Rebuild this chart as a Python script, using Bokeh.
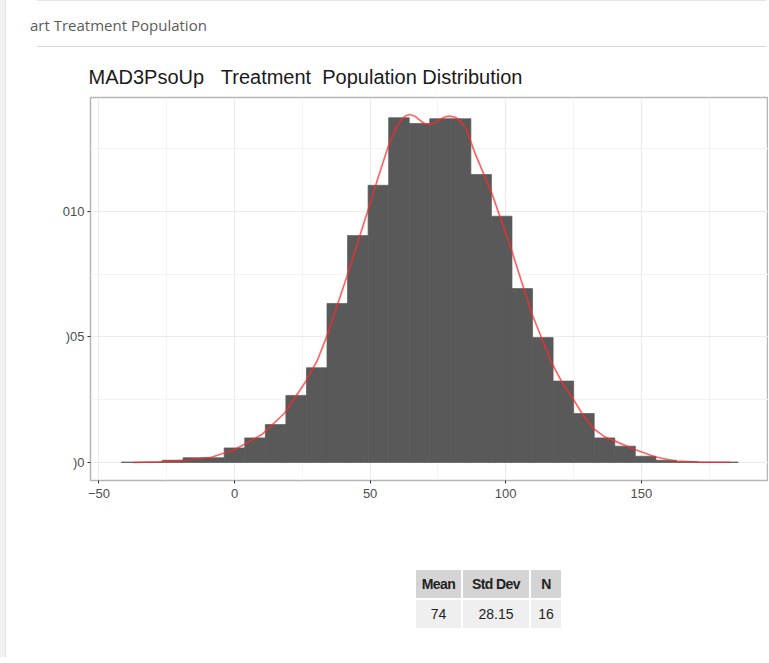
from bokeh.plotting import figure
from bokeh.models import Div, FixedTicker, Range1d
from bokeh.layouts import column
from bokeh.embed import file_html
from bokeh.resources import INLINE

# ---- data ----
bin_edges = [-41.7, -34.12, -26.54, -18.96, -11.38, -3.8, 3.78, 11.36, 18.94, 26.52,
             34.1, 41.68, 49.26, 56.84, 64.42, 72.0, 79.58, 87.16, 94.74, 102.32,
             109.9, 117.48, 125.06, 132.64, 140.22, 147.8, 155.38, 162.96, 170.54,
             178.12, 185.7]
bin_density = [0.00002, 0.00002, 0.00009, 0.00019, 0.00019, 0.00058, 0.00098, 0.00151,
               0.00267, 0.00377, 0.00633, 0.00903, 0.01103, 0.01372, 0.01349, 0.01368,
               0.01368, 0.01146, 0.0098, 0.00692, 0.00497, 0.00324, 0.00195, 0.00098,
               0.00065, 0.00025, 0.00009, 0.00004, 0.00002, 0.00002]

kde_x = [-37.4, -28.0, -18.3, -8.5, 0.1, 9.95, 18.5, 25.9, 30.5, 34.5, 41.9, 49.3, 53.0,
         56.7, 59.5, 61.6, 63.2, 64.6, 66.5, 68.3, 70.2, 72.0, 73.9, 75.7, 77.6, 79.4,
         81.3, 83.1, 85.5, 88.6, 94.8, 102.1, 109.5, 116.9, 121.0, 125.5, 129.0, 132.9,
         136.5, 140.3, 147.6, 155.0, 162.4, 172.2, 182.6]
kde_y = [0.0, 0.00003, 0.00009, 0.00021, 0.00052, 0.0011, 0.00197, 0.00316, 0.00405,
         0.00516, 0.00755, 0.01007, 0.01135, 0.01258, 0.01330, 0.01365, 0.01380, 0.01385,
         0.01378, 0.01362, 0.01348, 0.01345, 0.01352, 0.01365, 0.01375, 0.01378, 0.01374,
         0.01362, 0.01325, 0.01233, 0.01074, 0.00847, 0.00596, 0.00397, 0.00315, 0.00242,
         0.00180, 0.00131, 0.00102, 0.00085, 0.00052, 0.00023, 0.00006, 0.00001, 0.00001]

x_ticks = [-50, 0, 50, 100, 150]
x_minor = [-25, 25, 75, 125, 175]
y_ticks = [0.0, 0.005, 0.010]
y_minor = [0.0025, 0.0075, 0.0125]
y_tick_labels = [")0", ")05", "010"]

page_title = "art Treatment Population"
chart_title = "MAD3PsoUp\u00a0\u00a0\u00a0Treatment\u00a0\u00a0Population Distribution"
stat_headers = ["Mean", "Std Dev", "N"]
stat_values = ["74", "28.15", "16"]

FONT = "Liberation Sans"
W = 753

# ---- header ----
header = Div(
    width=W, height=42,
    text=(
        f'<div style="position:relative;width:{W}px;height:42px;">'
        '<div style="position:absolute;left:32px;right:-8px;top:-5px;border-top:1px solid #e6e6e6;"></div>'
        '<div style="position:absolute;left:25px;top:10px;font-family:\'Open Sans\';'
        'font-size:15px;line-height:20px;color:#5b5b5b;white-space:nowrap;">' + page_title + '</div>'
        '<div style="position:absolute;left:32px;right:-8px;top:41px;border-top:1px solid #d9d9d9;"></div>'
        '</div>'
    ),
)

# ---- figure ----
p = figure(frame_width=678, frame_height=383, output_backend="svg", toolbar_location=None,
           x_range=Range1d(-53.1, 196.9), y_range=Range1d(-0.000716, 0.014524),
           min_border_left=90, min_border_right=0, min_border_top=45, min_border_bottom=39,
           title=chart_title)
p.title.text_font = FONT
p.title.text_font_size = "20px"
p.title.text_font_style = "normal"
p.title.text_color = "#1a1a1a"
p.title.offset = -2
p.title.standoff = 19

p.quad(left=bin_edges[:-1], right=bin_edges[1:], bottom=0, top=bin_density,
       fill_color="#595959", line_color="#595959", line_width=0.7)
p.line(kde_x, kde_y, line_color="#ff2a2a", line_alpha=0.72, line_width=1.7)

p.outline_line_color = "#b5b5b5"
p.outline_line_width = 1.5
p.background_fill_color = "white"
p.border_fill_color = "white"

p.xaxis.ticker = FixedTicker(ticks=x_ticks, minor_ticks=x_minor)
p.yaxis.ticker = FixedTicker(ticks=y_ticks, minor_ticks=y_minor)
p.yaxis.major_label_overrides = {t: l for t, l in zip(y_ticks, y_tick_labels)}

for ax in (p.xaxis, p.yaxis):
    ax.axis_line_color = None
    ax.minor_tick_line_color = None
    ax.major_tick_line_color = "#333333"
    ax.major_tick_in = 0
    ax.major_tick_out = 3
    ax.major_label_text_font = FONT
    ax.major_label_text_font_size = "13px"
    ax.major_label_text_color = "#4d4d4d"
p.xaxis.major_label_standoff = 4
p.yaxis.major_label_standoff = 2

p.xgrid.grid_line_color = "#ebebeb"
p.ygrid.grid_line_color = "#ebebeb"
p.xgrid.minor_grid_line_color = "#f3f3f3"
p.ygrid.minor_grid_line_color = "#f3f3f3"

# ---- stats table ----
cell = ("box-sizing:border-box;padding:0 3px;height:28px;white-space:nowrap;text-align:center;"
        "font-family:'Liberation Sans Narrow','Liberation Sans';font-size:14px;color:#222;")
widths = [45, 66, 30]
head_cells = "".join(
    f'<td style="{cell}background:#d4d4d4;font-weight:bold;letter-spacing:-0.6px;width:{w}px;">{h}</td>'
    for h, w in zip(stat_headers, widths))
val_cells = "".join(
    f'<td style="{cell}background:#efefef;width:{w}px;">{v}</td>'
    for v, w in zip(stat_values, widths))
table = Div(
    width=W, height=110,
    text=(
        f'<div style="position:relative;width:{W}px;height:110px;">'
        '<div style="position:absolute;left:-8px;top:-530px;width:9px;height:663px;'
        'background:#f1f1f1;border-right:1px solid #e2e2e2;z-index:10;"></div>'
        '<table style="position:absolute;left:409px;top:44px;border-collapse:separate;'
        'border-spacing:2px;table-layout:fixed;">'
        f'<tr>{head_cells}</tr><tr>{val_cells}</tr></table></div>'
    ),
)

layout = column(header, p, table, spacing=0)
open("out.html", "w").write(file_html(layout, INLINE))
